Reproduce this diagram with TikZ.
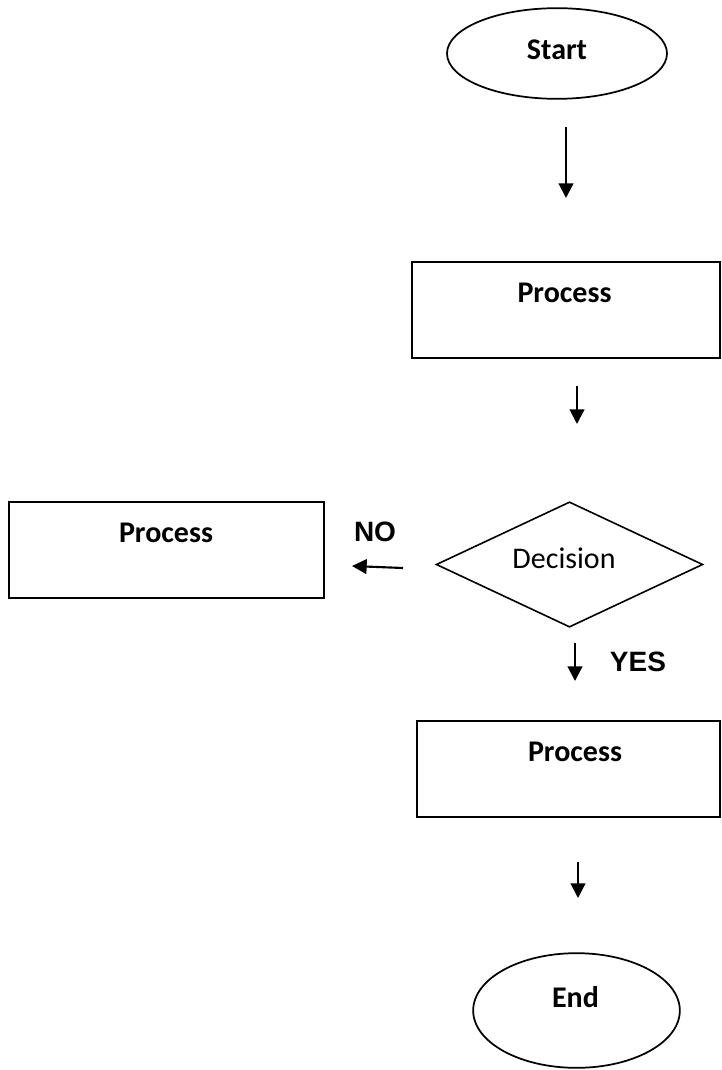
\documentclass[tikz,border=0pt]{standalone}
\usepackage{fontspec}
\setmainfont{Carlito}
\newfontfamily\arialfont{Liberation Sans}
\usetikzlibrary{
    arrows.meta,
    shapes.geometric,
    positioning
}

\begin{document}
\begin{tikzpicture}[x=0.75pt, y=-0.75pt,
    term/.style={draw, ellipse, line width=1.3pt, inner sep=0pt},
    procbox/.style={draw, rectangle, line width=1.8pt, inner sep=0pt},
    decide/.style={draw, diamond, line width=1.2pt, inner sep=0pt},
    txt/.style={inner sep=0pt, font=\fontsize{22.5}{27}\selectfont},
    btxt/.style={txt, font=\fontsize{22.5}{27}\selectfont\bfseries},
    atxt/.style={txt, font=\fontsize{21}{25}\selectfont\arialfont\bfseries},
    arr/.style={-{Triangle[width=11pt, length=11pt]}, line width=1.6pt}]
    \useasboundingbox (0, 0) rectangle (721, 1070);
    \node[term, minimum width=165pt, minimum height=68pt] (start) at (557, 53.5) {};
    \node[procbox, minimum width=231pt, minimum height=72pt] (proc1) at (566, 310) {};
    \node[decide, minimum width=200pt, minimum height=94pt] (dec) at (569.5, 564.5) {};
    \node[procbox, minimum width=236pt, minimum height=72pt] (procno) at (166.5, 550) {};
    \node[procbox, minimum width=227pt, minimum height=72pt] (procyes) at (568.5, 769) {};
    \node[term, minimum width=155pt, minimum height=86pt] (end) at (576.5, 1010.5) {};
    \node[btxt] (tstart) at (557, 50) {Start};
    \node[btxt] (tproc1) at (564.5, 293) {Process};
    \node[txt] (tdec) at (564, 558) {Decision};
    \node[btxt] (tprocno) at (166, 533) {Process};
    \node[btxt] (tprocyes) at (575, 752) {Process};
    \node[btxt] (tend) at (575.5, 997) {End};
    \node[atxt] (no) at (375, 532) {NO};
    \node[atxt] (yes) at (638, 662) {YES};
    % loose arrows between the shapes
    \coordinate (a1) at (566, 127);
    \coordinate (b1) at (566, 198);
    \coordinate (a2) at (577, 386);
    \coordinate (b2) at (577, 424);
    \coordinate (a3) at (403, 568);
    \coordinate (b3) at (352, 566);
    \coordinate (a4) at (575, 643);
    \coordinate (b4) at (575, 681);
    \coordinate (a5) at (578, 862);
    \coordinate (b5) at (578, 898);
    \draw
    (a1) edge[arr] (b1)
    (a2) edge[arr] (b2)
    (a3) edge[arr] (b3)
    (a4) edge[arr] (b4)
    (a5) edge[arr] (b5);
\end{tikzpicture}
\end{document}
